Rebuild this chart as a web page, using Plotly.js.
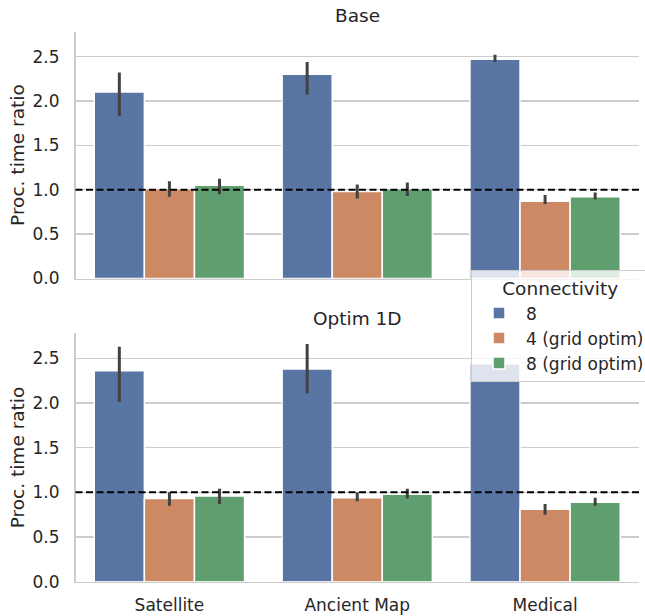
<!DOCTYPE html>
<html>
<head>
<meta charset="utf-8">
<script src="https://cdn.plot.ly/plotly-3.0.1.min.js"></script>
<style>html,body{margin:0;padding:0;background:#fff;}#chart{width:645px;height:616px;}</style>
</head>
<body>
<div id="chart"></div>
<script>
// ---- data ----
const categories = ['Satellite', 'Ancient Map', 'Medical'];
const seriesNames = ['8', '4 (grid optim)', '8 (grid optim)'];
const panelTitles = ['Base', 'Optim 1D'];

// Base panel
const base8     = [2.10, 2.30, 2.47];
const base8Hi   = [2.32, 2.44, 2.52];
const base8Lo   = [1.83, 2.07, 2.44];
const base4g    = [1.01, 0.98, 0.87];
const base4gHi  = [1.095, 1.06, 0.94];
const base4gLo  = [0.92, 0.90, 0.84];
const base8g    = [1.05, 1.01, 0.92];
const base8gHi  = [1.125, 1.08, 0.97];
const base8gLo  = [0.95, 0.93, 0.89];

// Optim 1D panel
const opt8      = [2.36, 2.38, 2.44];
const opt8Hi    = [2.63, 2.66, 2.47];
const opt8Lo    = [2.01, 2.11, 2.40];
const opt4g     = [0.93, 0.94, 0.81];
const opt4gHi   = [1.00, 1.00, 0.87];
const opt4gLo   = [0.85, 0.90, 0.75];
const opt8g     = [0.96, 0.98, 0.89];
const opt8gHi   = [1.04, 1.04, 0.94];
const opt8gLo   = [0.87, 0.93, 0.85];

const referenceLine = 1.0;
const yTicks = [0, 0.5, 1.0, 1.5, 2.0, 2.5];

// ---- styling ----
const colors = ['#5975A4', '#CC8963', '#5F9E6E'];
const textColor = '#262626';
const fontFam = 'DejaVu Sans, sans-serif';

function makeTrace(name, idx, vals, hi, lo, xa, ya, showLegend) {
  return {
    type: 'bar',
    name: name,
    x: categories,
    y: vals,
    xaxis: xa,
    yaxis: ya,
    showlegend: showLegend,
    legendgroup: name,
    marker: {color: colors[idx], line: {color: '#ffffff', width: 1.5}},
    error_y: {
      type: 'data',
      symmetric: false,
      array: hi.map((h, i) => h - vals[i]),
      arrayminus: lo.map((l, i) => vals[i] - l),
      color: '#424242',
      thickness: 3,
      width: 0
    },
    hoverinfo: 'x+y+name'
  };
}

const traces = [
  makeTrace(seriesNames[0], 0, base8, base8Hi, base8Lo, 'x', 'y', true),
  makeTrace(seriesNames[1], 1, base4g, base4gHi, base4gLo, 'x', 'y', true),
  makeTrace(seriesNames[2], 2, base8g, base8gHi, base8gLo, 'x', 'y', true),
  makeTrace(seriesNames[0], 0, opt8, opt8Hi, opt8Lo, 'x2', 'y2', false),
  makeTrace(seriesNames[1], 1, opt4g, opt4gHi, opt4gLo, 'x2', 'y2', false),
  makeTrace(seriesNames[2], 2, opt8g, opt8gHi, opt8gLo, 'x2', 'y2', false)
];

const xDomain = [75.5 / 645, 639 / 645];
const topDomain = [1 - 278.5 / 616, 1 - 31.7 / 616];
const botDomain = [1 - 581.7 / 616, 1 - 333.3 / 616];

function yAxis(domain, anchor) {
  return {
    domain: domain,
    anchor: anchor,
    range: [0, 2.78],
    tickvals: yTicks,
    ticktext: yTicks.map(v => v.toFixed(1)),
    showgrid: true,
    gridcolor: '#cccccc',
    gridwidth: 1.4,
    zeroline: false,
    showline: true,
    linecolor: '#cccccc',
    linewidth: 1.6,
    ticks: '',
    automargin: false,
    ticklabelstandoff: 11,
    tickfont: {family: fontFam, size: 17, color: textColor},
    title: {text: 'Proc. time ratio', font: {family: fontFam, size: 18.5, color: textColor}, standoff: 3},
    fixedrange: true
  };
}

function xAxis(domain, anchor, showLabels) {
  return {
    domain: domain,
    anchor: anchor,
    type: 'category',
    categoryarray: categories,
    range: [-0.5, 2.5],
    showgrid: false,
    zeroline: false,
    showline: true,
    linecolor: '#cccccc',
    linewidth: 1.6,
    ticks: '',
    automargin: false,
    showticklabels: showLabels,
    ticklabelstandoff: 7,
    tickfont: {family: fontFam, size: 17, color: textColor},
    fixedrange: true
  };
}

const layout = {
  width: 645,
  height: 616,
  margin: {l: 0, r: 0, t: 0, b: 0, autoexpand: false},
  paper_bgcolor: '#ffffff',
  plot_bgcolor: '#ffffff',
  font: {family: fontFam, color: textColor},
  barmode: 'group',
  bargap: 0.2,
  bargroupgap: 0,
  xaxis: xAxis(xDomain, 'y', false),
  yaxis: yAxis(topDomain, 'x'),
  xaxis2: xAxis(xDomain, 'y2', true),
  yaxis2: yAxis(botDomain, 'x2'),
  shapes: [
    {type: 'line', xref: 'x domain', yref: 'y', x0: 0, x1: 1, y0: referenceLine, y1: referenceLine,
     line: {color: '#000000', width: 2, dash: '7px,3.5px'}},
    {type: 'line', xref: 'x2 domain', yref: 'y2', x0: 0, x1: 1, y0: referenceLine, y1: referenceLine,
     line: {color: '#000000', width: 2, dash: '7px,3.5px'}}
  ],
  annotations: [
    {text: panelTitles[0], xref: 'paper', yref: 'paper', x: (xDomain[0] + xDomain[1]) / 2, y: 1 - 15.5 / 616,
     xanchor: 'center', yanchor: 'middle', showarrow: false, font: {family: fontFam, size: 18.5, color: textColor}},
    {text: panelTitles[1], xref: 'paper', yref: 'paper', x: (xDomain[0] + xDomain[1]) / 2, y: 1 - 318 / 616,
     xanchor: 'center', yanchor: 'middle', showarrow: false, font: {family: fontFam, size: 18.5, color: textColor}}
  ],
  legend: {
    x: 470.7 / 645,
    y: 1 - 270 / 616,
    xanchor: 'left',
    yanchor: 'top',
    bgcolor: 'rgba(255,255,255,0.8)',
    bordercolor: '#cccccc',
    borderwidth: 1.3,
    font: {family: fontFam, size: 17, color: textColor},
    title: {text: 'Connectivity', side: 'top center', font: {family: fontFam, size: 18.5, color: textColor}},
    tracegroupgap: 0,
    itemwidth: 44
  },
  showlegend: true
};

Plotly.newPlot('chart', traces, layout, {displayModeBar: false, staticPlot: true});
</script>
</body>
</html>
